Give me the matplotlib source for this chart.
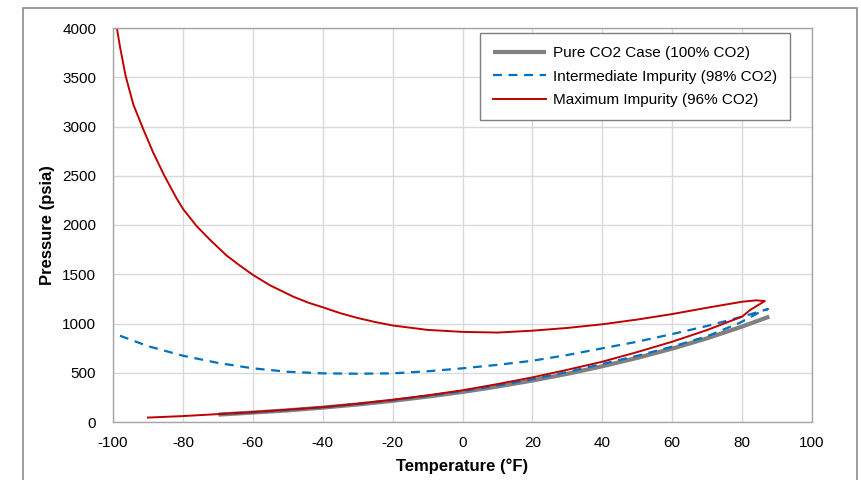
import matplotlib
matplotlib.use("Agg")
import matplotlib.pyplot as plt
from matplotlib.patches import Rectangle

plt.rcParams["font.family"] = ["Liberation Sans", "DejaVu Sans"]
plt.rcParams["axes.unicode_minus"] = False

_GRID = "#d9d9d9"
_FRAME = "#a6a6a6"
_INK = "#000000"

# Pure CO2 saturation line (temperature degF, pressure psia)
pure_t = [-69.8, -60, -50, -40, -30, -20, -10, 0, 10, 20, 30, 40, 50, 60, 70, 80, 87.8]
pure_p = [75, 96, 118, 146, 178, 215, 258, 305, 360, 421, 489, 566, 651, 745, 850, 969, 1070]

# 98% CO2 envelope: dew branch then bubble branch
mid_t = [-98, -90, -80, -70, -60, -50, -40, -30, -20, -10, 0, 10, 20, 30, 40, 50, 60,
         70, 80, 87.4,
         84.6, 79.4, 70, 60, 50, 40, 30, 20, 10, 0, -10, -20, -30, -40, -50, -60, -70]
mid_p = [876, 770, 673, 600, 545, 510, 494, 490, 494, 515, 545, 580, 622, 680, 748, 815, 893,
         975, 1069, 1147,
         1107, 1008, 870, 765, 672, 590, 508, 435, 370, 315, 265, 222, 183, 150, 122, 98, 80]

# 96% CO2 envelope: dew branch then bubble branch
max_t = [-98.9, -98.0, -96.4, -94.2, -91.6, -88.5, -85.3, -81.8, -79.9, -76.1, -72.2, -67.5,
         -63.7, -59.9, -55.1, -48.4, -44, -40, -35, -30, -25, -20, -10, 0, 10,
         20, 30, 40, 50, 60, 70, 80, 84, 86.5,
         82.3, 80, 70, 60, 50, 40, 30, 20, 10, 0, -10, -20, -30, -40, -50, -60, -70, -80, -90]
max_p = [4000, 3810, 3515, 3225, 2995, 2735, 2500, 2270, 2160, 1990, 1848, 1690,
         1588, 1492, 1388, 1272, 1210, 1165, 1105, 1056, 1015, 980, 935, 915, 908,
         927, 955, 992, 1040, 1096, 1160, 1221, 1235, 1228,
         1137, 1070, 934, 815, 710, 612, 530, 453, 385, 322, 270, 225, 185, 150, 125, 100, 80, 60, 45]

x_ticks = [-100, -80, -60, -40, -20, 0, 20, 40, 60, 80, 100]
y_ticks = [0, 500, 1000, 1500, 2000, 2500, 3000, 3500, 4000]

fig = plt.figure(figsize=(8.61, 4.8), dpi=100)
fig.patches.append(Rectangle((23 / 861, -0.05), (857 - 23) / 861, 1.05 - 8 / 480,
                             transform=fig.transFigure, fill=False,
                             edgecolor="#8c8c8c", linewidth=1.2))
ax = fig.add_axes([113 / 861, 1 - 422 / 480, (812 - 113) / 861, (422 - 28) / 480])

ax.plot(pure_t, pure_p, color="#808080", linewidth=3.0, label="Pure CO2 Case (100% CO2)",
        solid_capstyle="butt")
ax.plot(mid_t, mid_p, color="#0070c0", linewidth=1.6, linestyle=(0, (4, 3)),
        label="Intermediate Impurity (98% CO2)")
ax.plot(max_t, max_p, color="#c00000", linewidth=1.4, label="Maximum Impurity (96% CO2)")

ax.set_xlim(-100, 100)
ax.set_ylim(0, 4000)
ax.set_xticks(x_ticks)
ax.set_yticks(y_ticks)
ax.tick_params(length=0, labelsize=11, colors=_INK)
ax.tick_params(axis="y", pad=12)
ax.tick_params(axis="x", pad=10)
ax.grid(True, color=_GRID, linewidth=1.0)
ax.set_axisbelow(True)
for spine in ax.spines.values():
    spine.set_color(_FRAME)
    spine.set_linewidth(1.0)

ax.set_xlabel("Temperature (°F)", fontsize=12, fontweight="bold", labelpad=6)
ax.set_ylabel("Pressure (psia)", fontsize=12, fontweight="bold", labelpad=5)

leg = ax.legend(loc="upper right", bbox_to_anchor=(0.9685, 0.987), fontsize=11,
                frameon=True, fancybox=False, edgecolor="#7f7f7f", framealpha=1,
                handlelength=3.5, handletextpad=0.45, labelspacing=0.62,
                borderpad=0.85, borderaxespad=0)
leg.get_frame().set_linewidth(1.0)

fig.savefig("out.png", dpi=100)
